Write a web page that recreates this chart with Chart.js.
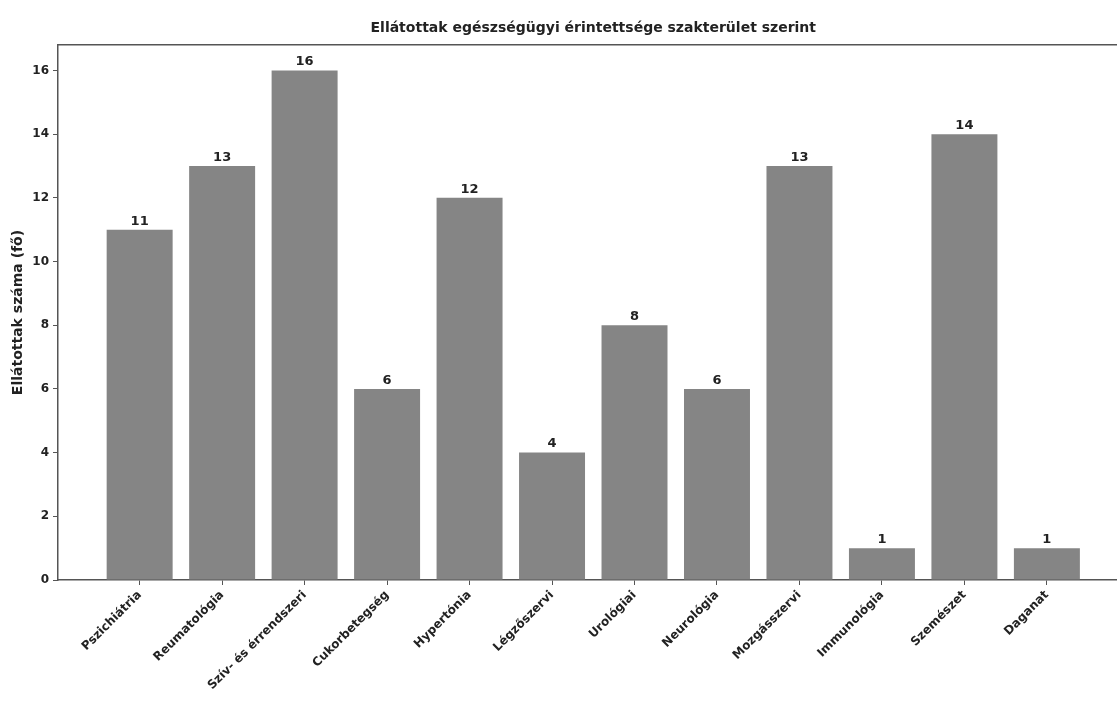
<!DOCTYPE html>
<html>
<head>
<meta charset="utf-8">
<title>Ellátottak</title>
<script src="https://cdn.jsdelivr.net/npm/chart.js"></script>
<style>
  html, body { margin: 0; padding: 0; background: #fff; }
  #wrap { width: 1117px; height: 715px; }
</style>
</head>
<body>
<div id="wrap"><canvas id="barChart" width="1117" height="715"></canvas></div>
<script>
// data
var chartTitle = 'Ellátottak egészségügyi érintettsége szakterület szerint';
var categories = ['Pszichiátria', 'Reumatológia', 'Szív- és érrendszeri', 'Cukorbetegség', 'Hypertónia', 'Légzőszervi',
                  'Urológiai', 'Neurológia', 'Mozgásszervi', 'Immunológia', 'Szemészet', 'Daganat'];
var counts = [11, 13, 16, 6, 12, 4, 8, 6, 13, 1, 14, 1];
var yTicks = [0, 2, 4, 6, 8, 10, 12, 14, 16];

var points = categories.map(function (c, i) { return { x: i, y: counts[i] }; });

// value labels on top of the bars + title centred over the (full) axes box
var barLabels = {
    id: 'barLabels',
    afterDatasetsDraw: function (chart) {
        var ctx = chart.ctx;
        var meta = chart.getDatasetMeta(0);
        ctx.save();
        ctx.font = 'bold 13px "DejaVu Sans"';
        ctx.fillStyle = '#222';
        ctx.textAlign = 'center';
        ctx.textBaseline = 'bottom';
        meta.data.forEach(function (bar, i) {
            ctx.fillText(counts[i], bar.x, bar.y - 2);
        });
        // axes run past the right edge (to x = 11.99), centre title on that box
        var xs = chart.scales.x;
        var mid = (xs.getPixelForValue(-0.99) + xs.getPixelForValue(11.99)) / 2;
        ctx.font = 'bold 14px "DejaVu Sans"';
        ctx.textBaseline = 'middle';
        ctx.fillText(chartTitle, mid, 28);
        ctx.restore();
    }
};

var ctx = document.getElementById('barChart').getContext('2d');
var chart = new Chart(ctx, {
    type: 'bar',
    data: {
        datasets: [{
            label: 'Ellátottak száma',
            data: points,
            backgroundColor: '#858585',
            borderWidth: 0,
            barPercentage: 0.8,
            categoryPercentage: 1.0
        }]
    },
    options: {
        responsive: false,
        animation: false,
        layout: { padding: { top: 45 } },
        plugins: {
            legend: { display: false },
            tooltip: { enabled: false },
            title: { display: false }
        },
        scales: {
            x: {
                type: 'linear',
                offset: false,
                min: -0.99,
                max: 11.85,
                afterBuildTicks: function (scale) {
                    scale.ticks = categories.map(function (c, i) { return { value: i }; });
                },
                afterFit: function (scale) { scale.height = 135; },
                ticks: {
                    autoSkip: false,
                    maxRotation: 45,
                    minRotation: 45,
                    color: '#222',
                    font: { family: '"DejaVu Sans"', size: 12, weight: 'bold' },
                    callback: function (v) { return categories[v]; }
                },
                grid: { offset: false, drawOnChartArea: false, drawTicks: true, tickLength: 5, color: '#555' },
                border: { display: true, color: '#555', width: 1.5 }
            },
            x2: {
                type: 'linear',
                position: 'top',
                min: -0.99,
                max: 11.85,
                afterFit: function (scale) { scale.height = 0; },
                ticks: { display: false },
                grid: { display: false },
                border: { display: true, color: '#555', width: 1.5 }
            },
            y: {
                min: 0,
                max: 16.8,
                afterBuildTicks: function (scale) {
                    scale.ticks = yTicks.map(function (v) { return { value: v }; });
                },
                afterFit: function (scale) { scale.width = 58; },
                ticks: {
                    color: '#222',
                    padding: 4,
                    font: { family: '"DejaVu Sans"', size: 12, weight: 'bold' }
                },
                grid: { drawOnChartArea: false, drawTicks: true, tickLength: 5, color: '#555' },
                border: { display: true, color: '#555', width: 1.5 },
                title: {
                    display: true,
                    text: 'Ellátottak száma (fő)',
                    color: '#222',
                    padding: { top: 10, bottom: 0 },
                    font: { family: '"DejaVu Sans"', size: 14, weight: 'bold' }
                }
            }
        }
    },
    plugins: [barLabels]
});
</script>
</body>
</html>
